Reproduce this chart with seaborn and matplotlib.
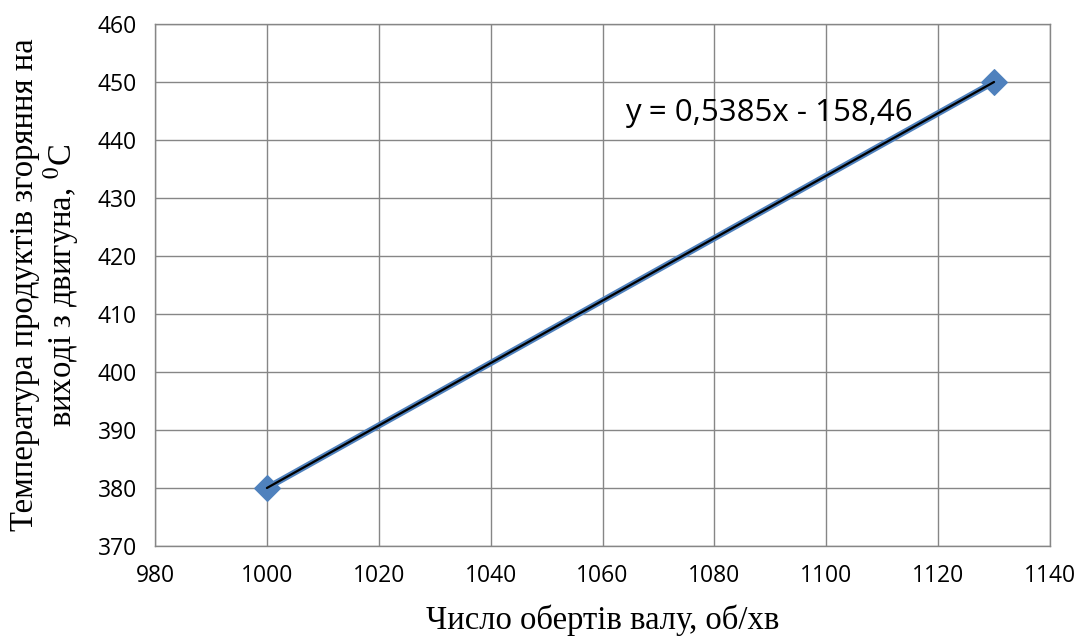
import numpy as np
import matplotlib
matplotlib.use("Agg")
import matplotlib.pyplot as plt
import seaborn as sns

# data
rpm = [1000, 1130]
temp = [380, 450]
x_ticks = [980, 1000, 1020, 1040, 1060, 1080, 1100, 1120, 1140]
y_ticks = [370, 380, 390, 400, 410, 420, 430, 440, 450, 460]

sns.set_style("white")
plt.rcParams["font.family"] = ["Open Sans", "DejaVu Sans"]
plt.rcParams["mathtext.fontset"] = "stix"
plt.rcParams["text.color"] = "black"
plt.rcParams["axes.labelcolor"] = "black"

fig = plt.figure(figsize=(10.82, 6.4), dpi=100)
ax = fig.add_axes([0.1433, 0.1469, 0.8271, 0.8156])

# linear trend
k, b = np.polyfit(rpm, temp, 1)
trend = [k * v + b for v in rpm]

sns.lineplot(x=rpm, y=temp, ax=ax, color="#4F81BD", linewidth=4.5,
             marker="D", markersize=13, markeredgecolor="#4F81BD", zorder=3)
sns.lineplot(x=rpm, y=trend, ax=ax, color="black", linewidth=1.6, zorder=4)

ax.set_xlim(980, 1140)
ax.set_ylim(370, 460)
ax.set_xticks(x_ticks)
ax.set_yticks(y_ticks)
ax.grid(True, color="#868686", linewidth=1)
for s in ax.spines.values():
    s.set_color("#868686")
    s.set_linewidth(1)
ax.tick_params(axis="both", direction="out", length=6, width=1, color="#868686",
               labelsize=16.5, labelcolor="black", pad=7)

ax.text(1064, 444.6, f"y = {k:.4f}x - {abs(b):.2f}".replace(".", ","),
        fontsize=22.5, va="center", ha="left")

ax.set_xlabel("Число обертів валу, об/хв", family="Liberation Serif",
              fontsize=23.5, labelpad=12)
ax.set_ylabel("Температура продуктів згоряння на\nвиході з двигуна, $^{0}$C",
              family="Liberation Serif", fontsize=23.5, labelpad=12, linespacing=1.05)

fig.savefig("out.png", dpi=100)
